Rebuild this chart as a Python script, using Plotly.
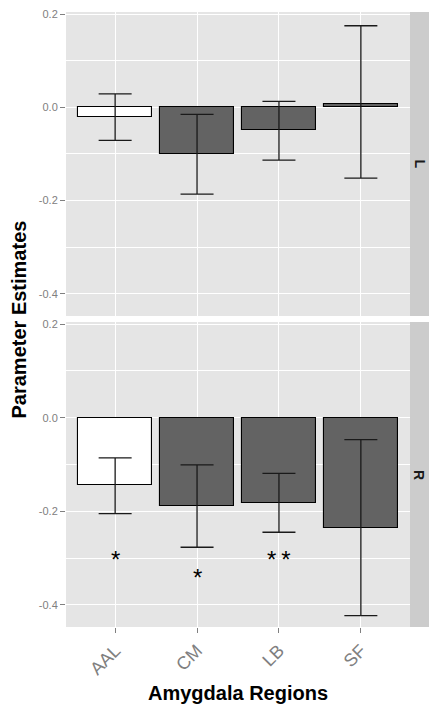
import plotly.graph_objects as go

# ---- data ----
regions = ["AAL", "CM", "LB", "SF"]
hemis = ["L", "R"]
L_est = [-0.020, -0.101, -0.049, 0.008]
L_lo = [-0.071, -0.186, -0.113, -0.152]
L_hi = [0.029, -0.015, 0.013, 0.175]
R_est = [-0.145, -0.188, -0.183, -0.235]
R_lo = [-0.205, -0.277, -0.245, -0.423]
R_hi = [-0.086, -0.101, -0.119, -0.047]
sig_text = ["*", "*", "*\u2009*", ""]
sig_y = [-0.300, -0.340, -0.300, None]
y_ticks = [0.2, 0.0, -0.2, -0.4]
y_ticktext = ["0.2", "0.0", "-0.2", "-0.4"]
bar_fill = ["#ffffff", "#636363", "#636363", "#636363"]

W, H = 429, 708
ML, MR, MT, MB = 66, 19, 12, 81
plot_h = H - MT - MB
top_dom = [(627 - 316) / plot_h, 1.0]
bot_dom = [0.0, (627 - 322) / plot_h]
yrange = [-0.4475, 0.2045]
FONT = "Liberation Sans, Arial"

fig = go.Figure()

def add_panel(est, lo, hi, xa, ya):
    fig.add_trace(go.Bar(
        x=regions, y=est, width=0.9,
        marker=dict(color=bar_fill, line=dict(color="#000000", width=1.1)),
        error_y=dict(type="data", symmetric=False,
                     array=[h - e for h, e in zip(hi, est)],
                     arrayminus=[e - l for e, l in zip(est, lo)],
                     color="#1a1a1a", thickness=1.3, width=16.5),
        xaxis=xa, yaxis=ya, showlegend=False, hoverinfo="skip"))

add_panel(L_est, L_lo, L_hi, "x", "y")
add_panel(R_est, R_lo, R_hi, "x2", "y2")

grey_txt = "#808080"
common_y = dict(range=yrange, tickvals=y_ticks, ticktext=y_ticktext,
                showgrid=True, gridcolor="#ffffff", gridwidth=1.2,
                zeroline=False, ticks="outside", ticklen=5, tickwidth=1,
                tickcolor=grey_txt, automargin=False,
                tickfont=dict(family=FONT, size=11, color=grey_txt),
                minor=dict(tickvals=[0.1, -0.1, -0.3], showgrid=True,
                           gridcolor="#ffffff", gridwidth=0.6, ticks=""),
                fixedrange=True)
common_x = dict(range=[-0.6, 3.6], showgrid=True, gridcolor="#ffffff",
                gridwidth=1.2, zeroline=False, type="category",
                categoryorder="array", categoryarray=regions, automargin=False)

fig.update_layout(
    width=W, height=H, autosize=False,
    margin=dict(l=ML, r=MR, t=MT, b=MB, autoexpand=False),
    paper_bgcolor="#ffffff", plot_bgcolor="#e5e5e5",
    bargap=0,
    xaxis=dict(**common_x, anchor="y", showticklabels=False, ticks="",
               matches="x2"),
    yaxis=dict(**common_y, domain=top_dom, anchor="x"),
    xaxis2=dict(**common_x, anchor="y2", ticks="outside", ticklen=5,
                tickcolor=grey_txt, tickangle=-45,
                tickfont=dict(family=FONT, size=18, color=grey_txt)),
    yaxis2=dict(**common_y, domain=bot_dom, anchor="x2"),
)

# facet strips on the right
shapes = []
annotations = []
for dom, lab in zip([top_dom, bot_dom], hemis):
    shapes.append(dict(type="rect", xref="paper", yref="paper",
                       x0=1.0, x1=1.1, y0=dom[0], y1=dom[1],
                       fillcolor="#cccccc", line=dict(width=0), layer="below"))
    annotations.append(dict(xref="paper", yref="paper",
                            x=1 + (419.5 - 410) / (W - ML - MR), y=(dom[0] + dom[1]) / 2,
                            text="<b>%s</b>" % lab, showarrow=False, textangle=90,
                            font=dict(family=FONT, size=14, color="#1a1a1a"),
                            xanchor="center", yanchor="middle"))

# significance stars (right hemisphere panel)
for r, t, yv in zip(regions, sig_text, sig_y):
    if t and yv is not None:
        annotations.append(dict(xref="x2", yref="y2", x=r, y=yv, text=t,
                                showarrow=False, yanchor="middle", yshift=-1,
                                font=dict(family=FONT, size=24, color="#000000")))

# axis titles
annotations.append(dict(xref="paper", yref="paper", x=0.5, y=0,
                        yshift=-(693 - 627), text="<b>Amygdala Regions</b>",
                        showarrow=False, yanchor="middle", xanchor="center",
                        font=dict(family=FONT, size=20, color="#000000")))
annotations.append(dict(xref="paper", yref="paper", x=0, xshift=-(ML - 18),
                        y=(627 - 319.5) / plot_h, text="<b>Parameter Estimates</b>",
                        showarrow=False, textangle=-90, xanchor="center", yanchor="middle",
                        font=dict(family=FONT, size=20, color="#000000")))

fig.update_layout(shapes=shapes, annotations=annotations)
fig.write_html("out.html", config={"displayModeBar": False},
               post_script="document.body.style.margin='0';document.body.style.overflow='hidden';")
